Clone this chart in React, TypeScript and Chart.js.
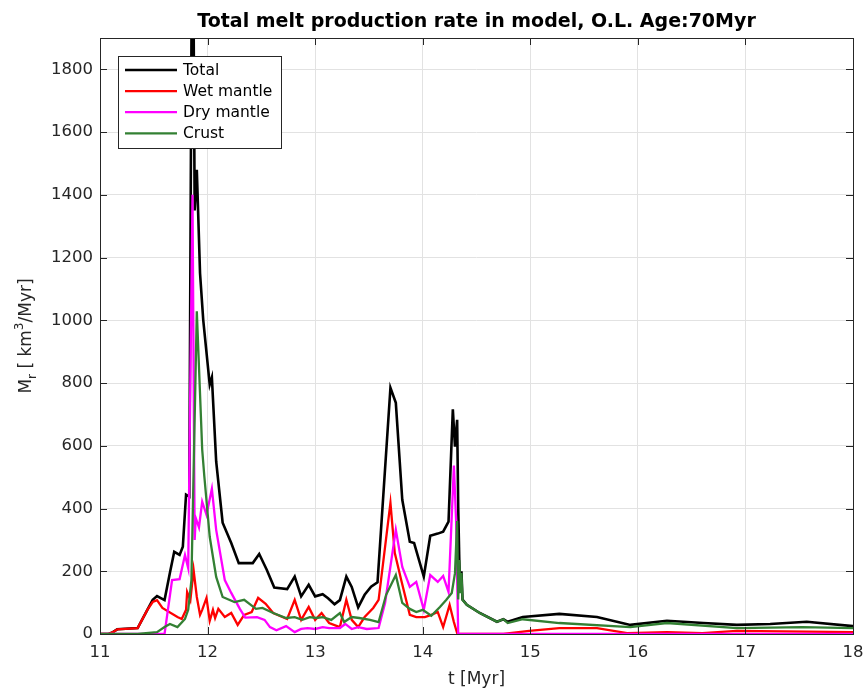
import React, { useEffect, useRef } from "react";
import { Chart, registerables } from "chart.js";

Chart.register(...registerables);

// Time axis values [Myr] and melt production rates [km^3/Myr]
const totalTime = [11.0, 11.08, 11.12, 11.16, 11.35, 11.44, 11.49, 11.53, 11.6, 11.65, 11.69, 11.74, 11.77, 11.8, 11.83, 11.86, 11.88, 11.9, 11.93, 11.96, 12.02, 12.04, 12.08, 12.14, 12.22, 12.29, 12.42, 12.48, 12.55, 12.62, 12.74, 12.81, 12.87, 12.94, 13.0, 13.07, 13.12, 13.18, 13.23, 13.29, 13.34, 13.4, 13.46, 13.52, 13.58, 13.7, 13.75, 13.81, 13.88, 13.92, 14.01, 14.07, 14.14, 14.19, 14.24, 14.28, 14.3, 14.32, 14.33, 14.34, 14.35, 14.36, 14.37, 14.41, 14.53, 14.69, 14.75, 14.79, 14.93, 15.27, 15.62, 15.93, 16.27, 16.61, 16.92, 17.23, 17.57, 18.0];
const totalRate = [0, 0, 6, 15, 19, 77, 109, 121, 108, 195, 262, 252, 278, 444, 438, 2600, 1350, 1480, 1150, 1000, 795, 818, 550, 355, 290, 226, 226, 255, 205, 148, 143, 183, 120, 157, 120, 127, 114, 95, 108, 183, 150, 85, 125, 151, 165, 785, 737, 428, 294, 290, 183, 313, 320, 326, 358, 716, 597, 683, 406, 236, 140, 200, 110, 93, 67, 39, 47, 39, 54, 64, 54, 29, 42, 35, 29, 32, 39, 25];

const wetTime = [11.0, 11.08, 11.12, 11.16, 11.35, 11.44, 11.49, 11.53, 11.58, 11.72, 11.76, 11.8, 11.81, 11.84, 11.87, 11.9, 11.93, 11.95, 11.99, 12.02, 12.05, 12.07, 12.1, 12.16, 12.22, 12.28, 12.34, 12.41, 12.47, 12.54, 12.61, 12.74, 12.81, 12.87, 12.94, 13.0, 13.06, 13.13, 13.23, 13.29, 13.34, 13.4, 13.46, 13.54, 13.59, 13.7, 13.74, 13.8, 13.88, 13.94, 14.02, 14.08, 14.14, 14.19, 14.25, 14.29, 14.32, 14.33, 14.75, 14.99, 15.27, 15.62, 15.9, 16.27, 16.6, 16.92, 18.0];
const wetRate = [0, 0, 6, 15, 19, 77, 102, 108, 83, 54, 48, 77, 134, 108, 204, 118, 61, 77, 115, 42, 77, 51, 80, 54, 67, 29, 61, 70, 115, 96, 67, 48, 109, 45, 86, 45, 67, 35, 22, 109, 45, 22, 54, 83, 109, 418, 259, 172, 61, 54, 54, 61, 70, 22, 93, 38, 3, 0, 0, 10, 19, 19, 3, 6, 3, 10, 6];

const dryTime = [11.0, 11.6, 11.67, 11.74, 11.79, 11.82, 11.86, 11.88, 11.89, 11.92, 11.95, 11.99, 12.04, 12.08, 12.16, 12.22, 12.3, 12.35, 12.46, 12.53, 12.58, 12.64, 12.73, 12.81, 12.87, 12.93, 13.0, 13.07, 13.13, 13.23, 13.28, 13.34, 13.4, 13.48, 13.59, 13.65, 13.75, 13.81, 13.88, 13.94, 14.01, 14.07, 14.14, 14.19, 14.24, 14.29, 14.31, 14.33, 18.0];
const dryRate = [0, 0, 172, 175, 252, 210, 1400, 300, 370, 340, 422, 380, 463, 332, 172, 131, 80, 52, 54, 45, 22, 12, 25, 6, 16, 19, 16, 22, 19, 19, 32, 16, 22, 16, 19, 99, 332, 214, 150, 166, 77, 188, 166, 185, 134, 537, 364, 0, 0];

const crustTime = [11.0, 11.35, 11.53, 11.6, 11.65, 11.72, 11.79, 11.82, 11.85, 11.9, 11.95, 11.97, 12.02, 12.08, 12.14, 12.25, 12.34, 12.45, 12.51, 12.61, 12.73, 12.81, 12.88, 12.95, 13.01, 13.07, 13.15, 13.23, 13.27, 13.34, 13.41, 13.51, 13.59, 13.66, 13.75, 13.81, 13.88, 13.94, 14.0, 14.08, 14.16, 14.22, 14.27, 14.3, 14.32, 14.33, 14.34, 14.35, 14.36, 14.37, 14.41, 14.53, 14.69, 14.75, 14.79, 14.93, 15.27, 15.93, 16.27, 16.92, 17.53, 18.0];
const crustRate = [0, 0, 6, 22, 32, 22, 48, 77, 172, 1029, 588, 502, 310, 182, 118, 102, 109, 80, 83, 67, 51, 54, 45, 54, 51, 54, 45, 67, 38, 54, 51, 45, 38, 125, 188, 99, 80, 70, 77, 58, 86, 109, 131, 194, 360, 110, 236, 130, 194, 108, 93, 67, 39, 47, 35, 47, 35, 22, 35, 19, 22, 19];

const seriesLabels = ["Total", "Wet mantle", "Dry mantle", "Crust"];
const seriesColors = ["#000000", "#ff0000", "#ff00ff", "#338033"];

const xTicks = [11, 12, 13, 14, 15, 16, 17, 18];
const yTicks = [0, 200, 400, 600, 800, 1000, 1200, 1400, 1600, 1800];

const titleText = "Total melt production rate in model, O.L. Age:70Myr";
const xLabel = "t [Myr]";

const FONT = "'DejaVu Sans', sans-serif";
const AXIS_COLOR = "#262626";

const pairs = (t: number[], v: number[]) => {
  const n = Math.min(t.length, v.length);
  const out: { x: number; y: number }[] = [];
  for (let i = 0; i < n; i++) out.push({ x: t[i], y: v[i] });
  return out;
};

// Axes box, inward ticks, title, axis labels and the boxed legend
const decorPlugin = {
  id: "decor",
  afterDatasetsDraw(chart: any) {
    const ctx = chart.ctx as CanvasRenderingContext2D;
    const { left, right, top, bottom } = chart.chartArea;
    const xs = chart.scales.x;
    const ys = chart.scales.y;
    ctx.save();

    // box
    ctx.strokeStyle = AXIS_COLOR;
    ctx.lineWidth = 1;
    ctx.strokeRect(Math.round(left) + 0.5, Math.round(top) + 0.5, Math.round(right - left), Math.round(bottom - top));

    // inward ticks
    const tl = 7;
    ctx.beginPath();
    xTicks.forEach((v) => {
      const px = Math.round(xs.getPixelForValue(v)) + 0.5;
      ctx.moveTo(px, bottom);
      ctx.lineTo(px, bottom - tl);
      ctx.moveTo(px, top);
      ctx.lineTo(px, top + tl);
    });
    yTicks.forEach((v) => {
      const py = Math.round(ys.getPixelForValue(v)) + 0.5;
      ctx.moveTo(left, py);
      ctx.lineTo(left + tl, py);
      ctx.moveTo(right, py);
      ctx.lineTo(right - tl, py);
    });
    ctx.stroke();

    // title
    ctx.fillStyle = "#000000";
    ctx.font = `bold 19px ${FONT}`;
    ctx.textAlign = "center";
    ctx.textBaseline = "alphabetic";
    ctx.fillText(titleText, (left + right) / 2, 27);

    // x label
    ctx.fillStyle = AXIS_COLOR;
    ctx.font = `17px ${FONT}`;
    ctx.fillText(xLabel, (left + right) / 2, 684);

    // y label: M_r [ km^3/Myr]
    ctx.save();
    ctx.translate(31, (top + bottom) / 2);
    ctx.rotate(-Math.PI / 2);
    const parts = [
      { s: "M", size: 17, dy: 0 },
      { s: "r", size: 12, dy: 5 },
      { s: " [ km", size: 17, dy: 0 },
      { s: "3", size: 12, dy: -8 },
      { s: "/Myr]", size: 17, dy: 0 },
    ];
    let w = 0;
    parts.forEach((p) => {
      ctx.font = `${p.size}px ${FONT}`;
      w += ctx.measureText(p.s).width;
    });
    let cx = -w / 2;
    ctx.textAlign = "left";
    parts.forEach((p) => {
      ctx.font = `${p.size}px ${FONT}`;
      ctx.fillText(p.s, cx, p.dy);
      cx += ctx.measureText(p.s).width;
    });
    ctx.restore();

    // legend
    const bx = 118, by = 56, bw = 163, bh = 92;
    ctx.fillStyle = "#ffffff";
    ctx.fillRect(bx, by, bw, bh);
    ctx.strokeStyle = AXIS_COLOR;
    ctx.lineWidth = 1;
    ctx.strokeRect(bx + 0.5, by + 0.5, bw, bh);
    ctx.font = `15.5px ${FONT}`;
    ctx.textAlign = "left";
    ctx.textBaseline = "middle";
    chart.data.datasets.forEach((ds: any, i: number) => {
      const y = 70 + i * 21.1;
      ctx.strokeStyle = ds.borderColor;
      ctx.lineWidth = 2.3;
      ctx.beginPath();
      ctx.moveTo(125, y);
      ctx.lineTo(177, y);
      ctx.stroke();
      ctx.fillStyle = "#000000";
      ctx.fillText(ds.label, 183, y + 1);
    });

    ctx.restore();
  },
};

export default function App() {
  const canvasRef = useRef<HTMLCanvasElement | null>(null);

  useEffect(() => {
    document.body.style.margin = "0";
    const canvas = canvasRef.current;
    if (!canvas) return;
    const times = [totalTime, wetTime, dryTime, crustTime];
    const rates = [totalRate, wetRate, dryRate, crustRate];
    const chart = new Chart(canvas, {
      type: "line",
      data: {
        datasets: seriesLabels.map((label, i) => ({
          label,
          data: pairs(times[i], rates[i]),
          borderColor: seriesColors[i],
          backgroundColor: seriesColors[i],
          borderWidth: i === 0 ? 2.6 : 2.3,
          pointRadius: 0,
          tension: 0,
          fill: false,
          // later series are painted over earlier ones
          order: seriesLabels.length - i,
        })),
      },
      options: {
        responsive: false,
        animation: false,
        events: [],
        layout: { padding: { top: 38, right: 13, left: 0, bottom: 0 } },
        plugins: {
          legend: { display: false },
          title: { display: false },
          tooltip: { enabled: false },
        },
        scales: {
          x: {
            type: "linear",
            min: 11,
            max: 18,
            afterFit: (s: any) => {
              s.height = 56;
              s.paddingLeft = 0;
              s.paddingRight = 0;
            },
            afterBuildTicks: (s: any) => {
              s.ticks = xTicks.map((v) => ({ value: v }));
            },
            ticks: {
              padding: 9,
              color: AXIS_COLOR,
              font: { family: FONT, size: 16.5 },
              maxRotation: 0,
              callback: (v: any) => String(v),
            },
            grid: { color: "#e2e2e2", drawTicks: false },
            border: { display: false },
          },
          y: {
            type: "linear",
            min: 0,
            max: 1900,
            afterFit: (s: any) => {
              s.width = 100;
              s.paddingTop = 0;
              s.paddingBottom = 0;
            },
            afterBuildTicks: (s: any) => {
              s.ticks = yTicks.map((v) => ({ value: v }));
            },
            ticks: {
              padding: 7,
              color: AXIS_COLOR,
              font: { family: FONT, size: 16.5 },
              callback: (v: any) => String(v),
            },
            grid: { color: "#e2e2e2", drawTicks: false },
            border: { display: false },
          },
        },
      },
      plugins: [decorPlugin],
    });
    return () => chart.destroy();
  }, []);

  return (
    <div style={{ width: 866, height: 690, background: "#ffffff" }}>
      <canvas ref={canvasRef} width={866} height={690} style={{ display: "block" }} />
    </div>
  );
}
